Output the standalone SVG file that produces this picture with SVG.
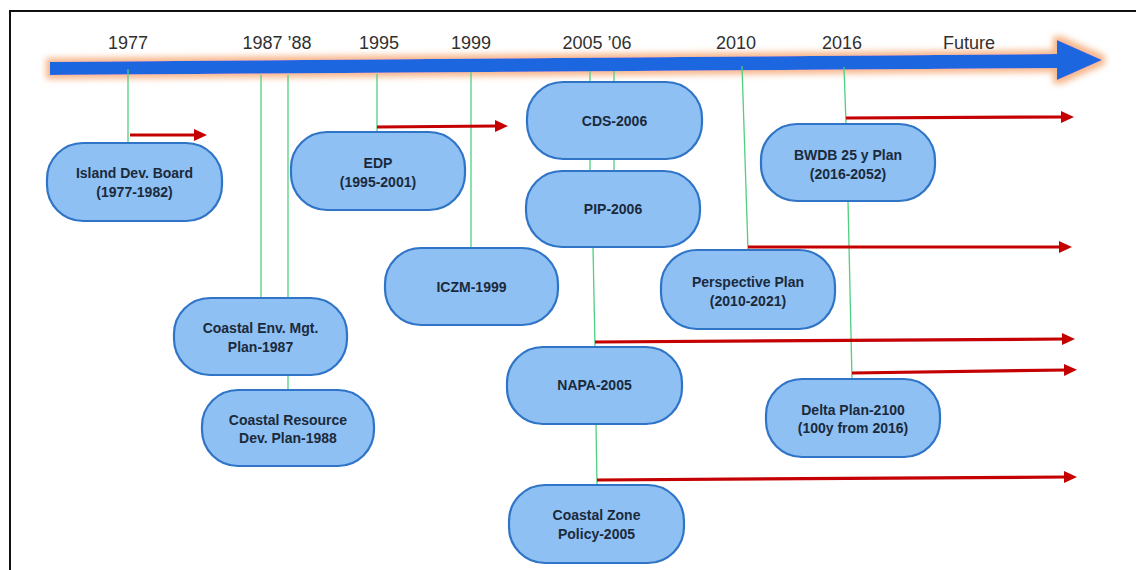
<svg xmlns="http://www.w3.org/2000/svg" width="1136" height="570" viewBox="0 0 1136 570">
  <defs>
    <style>
      .year { font-family: "Liberation Sans", Arial, sans-serif; font-size: 18px; fill: #303030; text-anchor: middle; }
      .box { fill: #8ec0f4; stroke: #2f74c6; stroke-width: 2.2; }
      .label { font-family: "Liberation Sans", Arial, sans-serif; font-size: 14px; font-weight: bold; fill: #1b2a3b; text-anchor: middle; }
      .tick { fill: none; stroke: #4fcf7f; stroke-width: 1.3; }
      .flow { fill: none; stroke: #c40000; stroke-width: 3.2; marker-end: url(#head); }
    </style>
    <marker id="head" markerUnits="userSpaceOnUse" markerWidth="15" markerHeight="14" refX="2" refY="7" orient="auto">
      <path d="M0,1 L13,7 L0,13 z" fill="#c40000"/>
    </marker>
    <filter id="glow" x="-5%" y="-80%" width="110%" height="260%">
      <feMorphology in="SourceAlpha" operator="dilate" radius="4" result="grown"/>
      <feFlood flood-color="#f7b589" result="tint"/>
      <feComposite in="tint" in2="grown" operator="in" result="halo"/>
      <feGaussianBlur in="halo" stdDeviation="3" result="soft"/>
      <feMerge>
        <feMergeNode in="soft"/>
        <feMergeNode in="SourceGraphic"/>
      </feMerge>
    </filter>
  </defs>

  <rect width="1136" height="570" fill="#ffffff"/>
  <!-- frame -->
  <path d="M10,570 V11 H1136" fill="none" stroke="#111111" stroke-width="2"/>

  <!-- main time axis -->
  <g id="timeline">
    <polygon points="50,62 1057,54 1057,40 1102,60 1057,80 1057,68 50,75" fill="#1f66e0" filter="url(#glow)"/>
    <text class="year" x="128" y="49">1977</text>
    <text class="year" x="277" y="49">1987 ’88</text>
    <text class="year" x="379" y="49">1995</text>
    <text class="year" x="471" y="49">1999</text>
    <text class="year" x="597" y="49">2005 ’06</text>
    <text class="year" x="736" y="49">2010</text>
    <text class="year" x="842" y="49">2016</text>
    <text class="year" x="969" y="49">Future</text>
  </g>

  <!-- connectors -->
  <g id="connectors">
    <path class="tick" d="M128,69 V143"/>
    <path class="tick" d="M261,75 V298"/>
    <path class="tick" d="M288,75 V298"/>
    <path class="tick" d="M288,375 V390"/>
    <path class="tick" d="M377,74 V132"/>
    <path class="tick" d="M471,72 V248"/>
    <path class="tick" d="M590,71 V82"/>
    <path class="tick" d="M614,71 V82"/>
    <path class="tick" d="M590,159 V171"/>
    <path class="tick" d="M614,159 V171"/>
    <path class="tick" d="M593,247 L595,347"/>
    <path class="tick" d="M596,424 L597,485"/>
    <path class="tick" d="M742,66 L748,250"/>
    <path class="tick" d="M844,67 L846,124"/>
    <path class="tick" d="M848,201 L852,379"/>

    <path class="flow" d="M130,135 L196,135"/>
    <path class="flow" d="M377,127 L497,126"/>
    <path class="flow" d="M846,118 L1063,117"/>
    <path class="flow" d="M748,247 L1061,247"/>
    <path class="flow" d="M595,342 L1064,339"/>
    <path class="flow" d="M852,373 L1066,370"/>
    <path class="flow" d="M597,480 L1066,477"/>
  </g>

  <!-- plans -->
  <g id="island-dev-board">
    <rect class="box" x="47" y="143" width="175" height="78" rx="36"/>
    <text class="label" x="134.5" y="178">Island Dev. Board</text>
    <text class="label" x="134.5" y="197">(1977-1982)</text>
  </g>
  <g id="edp">
    <rect class="box" x="291" y="132" width="174" height="78" rx="36"/>
    <text class="label" x="378" y="168">EDP</text>
    <text class="label" x="378" y="187">(1995-2001)</text>
  </g>
  <g id="iczm">
    <rect class="box" x="385" y="248" width="173" height="77" rx="36"/>
    <text class="label" x="471.5" y="292">ICZM-1999</text>
  </g>
  <g id="cds">
    <rect class="box" x="527" y="82" width="175" height="77" rx="36"/>
    <text class="label" x="614.5" y="126">CDS-2006</text>
  </g>
  <g id="pip">
    <rect class="box" x="526" y="171" width="174" height="76" rx="36"/>
    <text class="label" x="613" y="214">PIP-2006</text>
  </g>
  <g id="coastal-env">
    <rect class="box" x="174" y="298" width="173" height="77" rx="36"/>
    <text class="label" x="260.5" y="333">Coastal Env. Mgt.</text>
    <text class="label" x="260.5" y="352">Plan-1987</text>
  </g>
  <g id="coastal-resource">
    <rect class="box" x="202" y="390" width="172" height="76" rx="36"/>
    <text class="label" x="288" y="425">Coastal Resource</text>
    <text class="label" x="288" y="443">Dev. Plan-1988</text>
  </g>
  <g id="napa">
    <rect class="box" x="507" y="347" width="175" height="77" rx="36"/>
    <text class="label" x="594.5" y="390">NAPA-2005</text>
  </g>
  <g id="coastal-zone-policy">
    <rect class="box" x="509" y="485" width="175" height="78" rx="36"/>
    <text class="label" x="596.5" y="520">Coastal Zone</text>
    <text class="label" x="596.5" y="539">Policy-2005</text>
  </g>
  <g id="perspective-plan">
    <rect class="box" x="661" y="250" width="174" height="79" rx="36"/>
    <text class="label" x="748" y="287">Perspective Plan</text>
    <text class="label" x="748" y="306">(2010-2021)</text>
  </g>
  <g id="bwdb">
    <rect class="box" x="761" y="124" width="174" height="77" rx="36"/>
    <text class="label" x="848" y="160">BWDB 25 y Plan</text>
    <text class="label" x="848" y="179">(2016-2052)</text>
  </g>
  <g id="delta-plan">
    <rect class="box" x="766" y="379" width="174" height="78" rx="36"/>
    <text class="label" x="853" y="415">Delta Plan-2100</text>
    <text class="label" x="853" y="433">(100y from 2016)</text>
  </g>
</svg>
